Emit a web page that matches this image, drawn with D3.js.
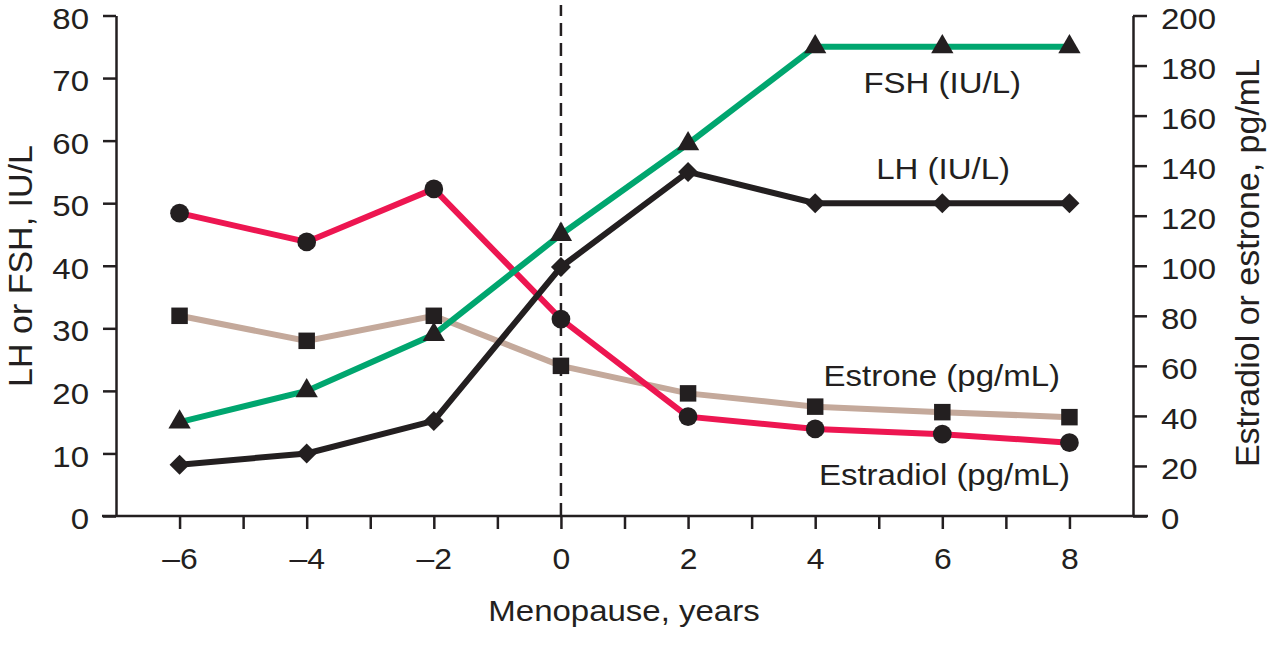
<!DOCTYPE html>
<html>
<head>
<meta charset="utf-8">
<script src="https://cdn.jsdelivr.net/npm/d3@7"></script>
<style>
  body { margin: 0; background: #fff; }
  text { font-family: "Liberation Sans", Arial, sans-serif; fill: #231f20; }
</style>
</head>
<body>
<svg id="chart" width="1272" height="648"></svg>
<script>
// values
const years = [-6, -4, -2, 0, 2, 4, 6, 8]
const fsh = [15, 20, 29, 45, 59.5, 75, 75, 75]              // IU/L, left axis
const lh = [8.2, 10, 15.2, 39.8, 55, 50, 50, 50]           // IU/L, left axis
const estradiol = [121, 109.5, 130.7, 78.7, 39.7, 34.8, 32.7, 29.3] // pg/mL, right axis
const estrone = [80, 70, 80, 60, 49, 43.7, 41.5, 39.5]     // pg/mL, right axis

const yearTicks = [-6, -5, -4, -3, -2, -1, 0, 1, 2, 3, 4, 5, 6, 7, 8]
const yearLabels = [-6, -4, -2, 0, 2, 4, 6, 8]
const leftTicks = [0, 10, 20, 30, 40, 50, 60, 70, 80]
const rightTicks = [0, 20, 40, 60, 80, 100, 120, 140, 160, 180, 200]

const INK = '#231f20'
const STRETCH = 1.1   // the original type is a bit wider than Liberation Sans

const svg = d3.select('#chart')

const x = d3.scaleLinear().domain([-7, 9]).range([116, 1133])
const yLeft = d3.scaleLinear().domain([0, 80]).range([516, 15.5])
const yRight = d3.scaleLinear().domain([0, 200]).range([516, 15.5])

const fmt = d => d < 0 ? '\u2013' + Math.abs(d) : String(d)

function addText (parent, px, py, str, size, anchor, rotate) {
  let tf = `translate(${px},${py})`
  tf += rotate ? ` rotate(${rotate})` : ` scale(${STRETCH},1)`
  return parent.append('text')
    .attr('transform', tf)
    .attr('text-anchor', anchor)
    .style('font-size', size + 'px')
    .text(str)
}

function styleAxis (g) {
  g.selectAll('path, line').attr('stroke', INK).attr('stroke-width', 2.5)
  g.selectAll('text').style('font-size', '30px').attr('fill', INK)
    .style('font-family', '"Liberation Sans", Arial, sans-serif')
}

// dashed line at menopause
svg.append('line')
  .attr('x1', x(0)).attr('x2', x(0))
  .attr('y1', yLeft(0)).attr('y2', 5)
  .attr('stroke', INK).attr('stroke-width', 2.5)
  .attr('stroke-dasharray', '13,7')

// left axis
const gLeft = svg.append('g')
  .attr('transform', `translate(${x(-7)},0)`)
  .call(d3.axisLeft(yLeft).tickValues(leftTicks).tickSize(13).tickSizeOuter(0))
gLeft.call(styleAxis)
gLeft.selectAll('text')
  .attr('x', -27 / STRETCH).attr('dy', '0.42em')
  .attr('transform', `scale(${STRETCH},1)`)

// right axis
const gRight = svg.append('g')
  .attr('transform', `translate(${x(9)},0)`)
  .call(d3.axisRight(yRight).tickValues(rightTicks).tickSize(14).tickSizeOuter(0))
gRight.call(styleAxis)
gRight.selectAll('text')
  .attr('x', 28 / STRETCH).attr('dy', '0.42em')
  .attr('transform', `scale(${STRETCH},1)`)

// bottom axis
const gBottom = svg.append('g')
  .attr('transform', `translate(0,${yLeft(0)})`)
  .call(d3.axisBottom(x).tickValues(yearTicks).tickSize(13)
    .tickFormat(d => yearLabels.includes(d) ? fmt(d) : ''))
gBottom.select('.domain').remove()
gBottom.call(styleAxis)
gBottom.selectAll('text')
  .attr('y', 53).attr('dy', 0)
  .style('font-size', '29px')
  .attr('transform', `scale(${STRETCH},1)`)
  .attr('x', 0)
gBottom.append('line')
  .attr('x1', x.range()[0] - 14).attr('x2', x.range()[1] + 15)
  .attr('stroke', INK).attr('stroke-width', 2.5)

// series
const series = [
  { name: 'Estrone', values: estrone, y: yRight, color: '#c4a99b', symbol: d3.symbolSquare, size: 272, rot: 0 },
  { name: 'Estradiol', values: estradiol, y: yRight, color: '#ed1651', symbol: d3.symbolCircle, size: 275, rot: 0 },
  { name: 'FSH', values: fsh, y: yLeft, color: '#00a66f', symbol: d3.symbolTriangle, size: 215, rot: 0 },
  { name: 'LH', values: lh, y: yLeft, color: INK, symbol: d3.symbolSquare, size: 200, rot: 45 }
]

series.forEach(s => {
  const line = d3.line().x((d, i) => x(years[i])).y(d => s.y(d))
  svg.append('path')
    .datum(s.values)
    .attr('d', line)
    .attr('fill', 'none')
    .attr('stroke', s.color)
    .attr('stroke-width', 6)
    .attr('stroke-linejoin', 'miter')
})

series.forEach(s => {
  svg.append('g').selectAll('path')
    .data(s.values)
    .join('path')
    .attr('d', d3.symbol(s.symbol, s.size))
    .attr('transform', (d, i) => `translate(${x(years[i])},${s.y(d)}) rotate(${s.rot})`)
    .attr('fill', INK)
})

// series labels
addText(svg, 1021, 93, 'FSH (IU/L)', 30, 'end')
addText(svg, 1010, 179, 'LH (IU/L)', 30, 'end')
addText(svg, 1060, 386, 'Estrone (pg/mL)', 30, 'end')
addText(svg, 1070, 485, 'Estradiol (pg/mL)', 30, 'end')

// axis titles
addText(svg, 624, 621, 'Menopause, years', 30, 'middle')
addText(svg, 32, 266, 'LH or FSH, IU/L', 34, 'middle', -90)
addText(svg, 1259, 263, 'Estradiol or estrone, pg/mL', 34, 'middle', -90)
</script>
</body>
</html>
